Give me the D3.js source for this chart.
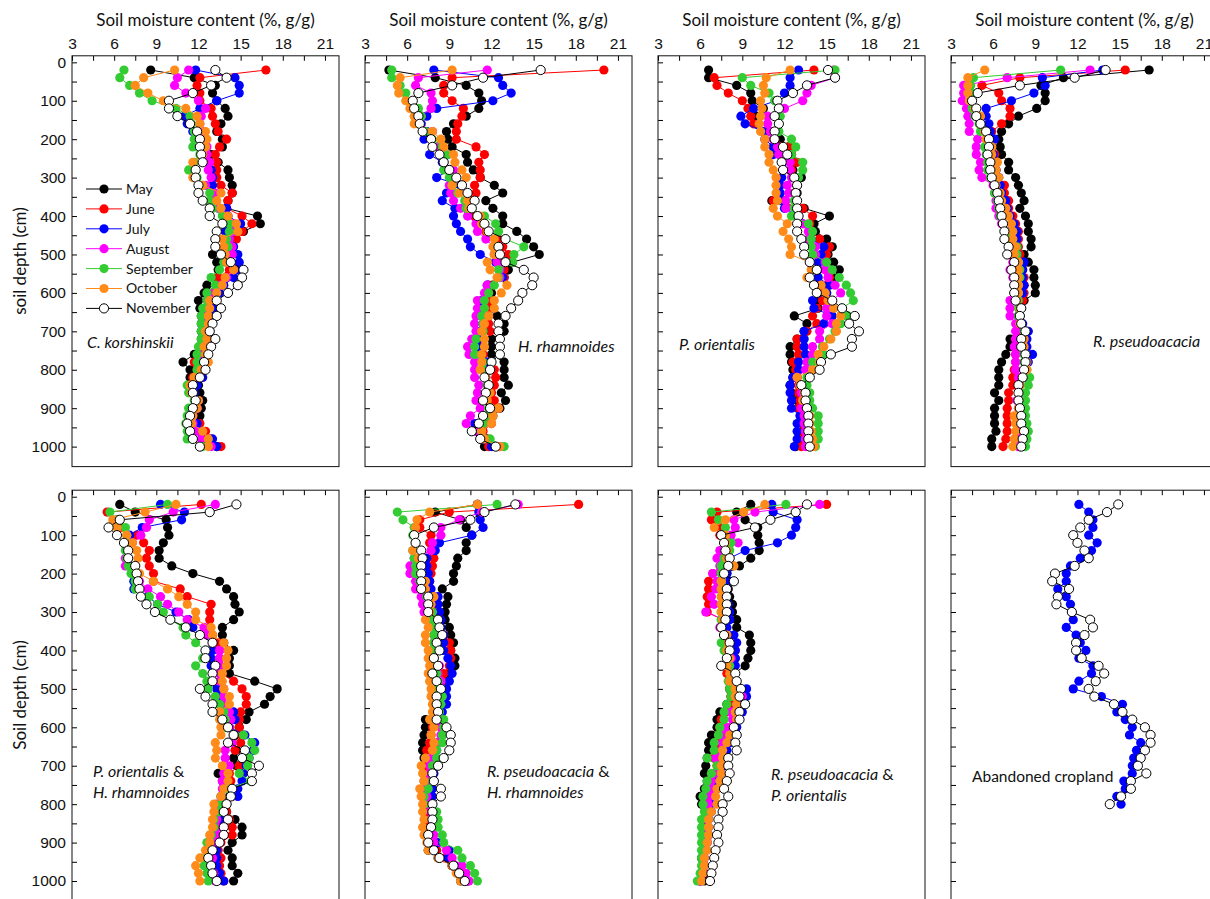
<!DOCTYPE html>
<html>
<head>
<meta charset="utf-8">
<script src="https://cdn.jsdelivr.net/npm/d3@7/dist/d3.min.js"></script>
<style>
  body { margin: 0; background: #fff; }
  svg { display: block; font-family: Lato, "Open Sans", "Liberation Sans", sans-serif; }
</style>
</head>
<body>
<svg id="chart" width="1210" height="899"></svg>
<script>
// categories
const months = ["May", "June", "July", "August", "September", "October", "November"];
const depths = [20, 40, 60, 80, 100, 120, 140, 160, 180, 200, 220, 240, 260, 280, 300, 320, 340, 360, 380, 400,
  420, 440, 460, 480, 500, 520, 540, 560, 580, 600, 620, 640, 660, 680, 700, 720, 740, 760, 780, 800,
  820, 840, 860, 880, 900, 920, 940, 960, 980, 1000];
const xTickLabels = [3, 6, 9, 12, 15, 18, 21];
const yTickLabels = [0, 100, 200, 300, 400, 500, 600, 700, 800, 900, 1000];

// soil moisture (%), one row per month May..November, depth 20..1000 cm
const korshinskii = [
  [8.6,11.7,13.2,13.0,13.3,13.9,14.1,13.6,13.3,13.7,13.7,12.9,13.4,14.1,14.2,14.4,14.4,14.1,14.0,16.2,16.4,15.2,14.2,14.2,13.0,13.3,13.4,13.3,12.6,12.4,12.0,12.1,12.2,12.2,12.2,12.2,12.3,11.7,10.9,11.4,11.4,12.0,12.1,12.3,12.2,12.1,11.4,11.7,12.3,13.3],
  [16.8,12.1,11.9,12.1,12.1,12.9,13.0,13.2,13.4,14.0,13.5,13.2,13.3,13.3,13.3,13.6,14.4,14.1,14.0,15.1,15.8,15.1,14.7,14.2,14.1,14.2,14.2,13.4,13.5,13.0,12.8,12.8,12.4,12.6,12.5,12.7,12.5,12.0,11.7,11.9,11.6,11.5,11.6,12.0,11.9,11.6,12.1,12.5,12.8,13.6],
  [11.8,14.6,14.9,14.9,13.3,12.1,11.0,11.2,11.6,12.1,12.3,12.4,12.7,12.9,13.0,13.0,13.0,13.2,14.0,14.1,15.0,13.9,14.2,14.5,14.8,14.9,14.8,14.5,13.8,13.5,13.0,13.2,13.0,12.9,12.8,12.9,12.5,12.1,12.1,12.1,12.3,11.9,11.7,12.0,11.9,11.6,11.9,12.1,13.0,13.3],
  [11.3,10.5,10.3,11.1,12.0,12.5,12.2,12.1,12.4,12.5,12.6,12.6,12.8,12.7,12.9,12.5,13.2,13.2,13.4,13.9,14.5,14.5,14.2,14.4,14.4,14.0,14.5,14.0,13.6,13.1,12.8,12.7,12.4,12.6,12.5,12.5,12.5,12.0,12.0,12.1,12.0,11.5,11.6,11.9,11.9,11.5,11.6,11.9,12.2,12.9],
  [6.7,6.4,7.1,7.8,8.7,10.4,11.4,11.5,11.7,11.7,11.6,12.1,11.7,11.3,11.9,12.3,12.8,12.8,13.0,13.7,14.2,14.2,14.0,14.1,13.8,13.8,13.5,12.9,13.2,12.6,12.6,12.3,12.2,12.2,12.2,12.2,12.0,11.9,11.9,11.9,11.7,11.2,11.3,11.7,11.3,11.2,11.1,11.2,11.2,12.3],
  [10.3,8.1,7.5,8.4,9.5,11.1,11.9,12.1,12.5,12.6,12.5,12.3,11.6,11.8,11.6,12.3,13.6,13.3,13.6,14.1,14.7,14.8,13.7,13.8,13.9,14.0,14.5,13.9,13.7,13.3,12.8,12.8,12.7,12.7,12.5,12.6,12.4,12.5,12.7,12.2,11.7,11.4,11.5,12.0,11.9,11.6,11.5,12.3,12.7,12.7],
  [13.2,14.0,12.9,11.6,9.9,9.9,10.5,11.4,11.9,12.1,12.1,12.2,12.3,11.8,11.8,12.0,12.0,12.3,12.8,12.8,13.7,13.3,13.2,13.2,13.6,14.3,15.2,15.1,14.8,14.1,13.3,13.6,13.3,13.0,12.8,13.2,12.9,12.7,12.4,12.5,12.1,11.6,11.6,11.8,11.6,11.4,11.2,11.4,11.6,12.1]
];
const rhamnoides = [
  [4.7,8.0,10.2,11.1,11.3,11.1,10.2,9.3,8.8,8.9,9.2,10.2,10.3,10.7,11.2,12.2,12.8,11.6,12.1,12.8,12.8,13.8,14.5,15.0,15.4,13.5,13.2,12.9,12.1,12.0,11.9,12.0,12.4,12.9,12.9,12.0,12.0,12.0,12.9,12.9,12.9,13.2,12.7,13.0,12.6,12.1,11.4,11.3,11.6,11.5],
  [20.0,9.2,8.6,8.6,9.2,10.0,9.9,9.6,9.5,9.5,10.9,11.5,11.1,11.2,11.2,10.8,10.9,10.6,10.5,10.8,11.4,11.6,12.5,12.8,13.2,12.9,12.9,12.9,11.8,11.8,11.9,11.8,11.8,11.8,11.9,11.0,11.2,11.4,11.9,12.2,12.3,12.2,12.0,12.2,12.5,12.0,12.0,11.4,11.7,11.8],
  [7.9,12.5,12.8,13.4,12.1,8.1,7.4,7.0,7.4,7.2,8.2,7.6,8.5,9.0,8.1,9.8,8.8,8.5,9.4,9.3,9.5,9.8,10.3,10.5,11.2,12.3,12.6,12.8,11.7,11.7,11.3,11.3,11.3,11.4,11.2,11.1,11.0,11.2,11.7,11.7,11.6,11.8,11.7,11.5,11.9,11.4,10.8,11.0,11.5,12.0],
  [11.7,6.8,6.6,7.7,7.8,7.7,7.0,6.9,7.8,7.7,8.2,8.9,8.6,9.3,9.4,9.0,9.1,9.3,9.8,10.3,10.9,11.0,11.6,12.2,12.2,12.4,12.6,12.6,11.7,11.5,11.0,11.0,10.9,10.8,10.9,10.6,10.3,10.4,10.8,10.8,10.8,11.1,11.0,10.9,11.2,10.5,10.2,10.8,11.4,12.6],
  [4.9,4.9,5.5,5.9,6.0,6.8,7.0,6.8,7.3,7.8,8.5,8.9,8.6,8.6,9.0,9.2,9.6,10.1,10.2,11.5,12.3,12.5,13.0,14.3,13.6,13.5,12.5,12.5,12.2,11.8,11.5,11.5,11.3,11.4,11.4,10.9,10.8,10.8,11.4,11.4,11.5,11.7,11.7,11.4,11.8,11.7,11.4,11.3,11.9,12.9],
  [9.2,5.5,5.3,5.4,5.9,6.2,6.5,6.5,7.8,8.4,8.6,9.3,9.4,9.9,10.2,9.2,9.7,10.3,10.4,11.2,11.3,11.7,12.2,12.1,12.2,11.7,11.9,12.4,13.1,12.7,12.2,12.2,11.8,11.5,11.3,11.5,11.5,11.3,11.3,11.2,11.6,11.8,11.9,11.7,12.5,12.1,12.0,11.3,11.5,12.6],
  [15.5,11.4,9.2,6.8,6.4,6.5,6.8,6.9,7.1,7.7,7.8,8.3,8.6,9.0,9.5,9.9,10.3,10.8,10.6,11.0,11.5,11.8,13.0,12.5,12.6,13.0,14.3,15.0,14.9,14.2,13.9,13.4,13.0,12.5,12.5,12.6,12.6,12.6,12.0,11.9,11.5,11.8,11.6,11.4,11.9,11.4,11.1,10.6,11.2,12.3]
];
const orientalis = [
  [6.6,6.6,8.6,9.6,9.7,10.5,10.0,10.0,11.0,11.7,12.3,12.5,12.8,12.6,13.2,12.9,12.9,11.1,13.4,15.2,14.1,14.2,15.0,15.4,15.1,15.5,15.9,15.7,15.1,15.0,14.3,14.4,12.7,13.6,13.4,12.9,12.4,12.4,12.5,12.6,12.6,12.4,12.5,12.9,13.0,13.2,13.3,13.3,13.2,12.8],
  [14.1,7.0,7.2,8.0,9.0,9.4,9.6,9.8,10.6,11.3,12.3,12.5,12.9,12.5,12.7,12.9,12.7,11.2,13.3,14.0,13.8,13.9,14.5,15.2,15.0,14.4,14.4,15.2,15.1,14.7,14.7,14.3,14.0,14.3,13.6,12.9,12.9,13.0,12.6,12.8,12.9,13.0,13.0,13.1,13.0,13.2,13.4,13.3,13.3,13.2],
  [13.0,12.4,12.4,12.0,11.4,9.8,8.9,9.2,10.5,10.6,11.2,11.2,11.9,11.9,11.8,11.7,11.7,11.7,12.0,13.0,13.3,13.8,13.9,14.8,14.6,14.4,14.4,14.4,15.2,15.0,14.0,14.1,15.4,14.8,13.4,13.4,13.4,13.5,13.0,13.0,12.6,12.4,12.4,12.5,12.5,13.1,12.9,12.9,12.9,12.7],
  [15.5,15.6,13.9,13.6,13.3,12.0,10.8,10.8,11.0,11.2,11.5,11.6,12.4,12.4,12.5,12.2,12.3,12.1,12.1,13.0,13.3,13.7,13.7,14.2,14.2,14.9,14.9,15.1,15.6,16.0,15.4,15.0,15.0,15.4,14.5,14.5,14.0,14.0,13.6,13.5,12.9,13.1,13.2,13.3,13.2,13.4,13.4,13.5,13.5,13.5],
  [15.6,9.0,9.6,10.9,11.3,11.6,11.7,11.6,11.6,12.5,12.8,12.5,13.3,13.3,13.0,12.9,12.8,12.7,12.7,12.5,13.7,14.0,13.9,13.9,14.0,15.0,15.4,15.9,16.4,16.7,16.9,16.1,16.5,16.0,15.6,15.2,14.7,14.8,14.0,14.0,13.6,13.6,13.8,13.8,14.0,14.4,14.4,14.4,14.4,14.2],
  [12.4,10.7,10.5,10.6,10.3,10.4,10.3,10.2,10.3,10.6,10.6,10.9,10.9,11.2,11.4,11.4,11.4,11.5,11.2,11.5,12.2,11.9,12.3,12.5,12.4,13.8,13.9,13.6,14.6,14.9,15.1,15.5,16.0,15.7,15.7,15.3,14.8,14.4,14.5,14.0,12.9,13.1,13.4,13.3,13.6,13.8,13.8,13.9,14.0,14.1],
  [15.1,15.6,13.6,12.6,11.5,11.6,11.3,11.6,11.3,11.3,11.9,12.2,11.8,11.9,12.7,12.9,12.8,12.9,12.9,13.0,12.9,12.9,13.2,13.4,13.4,13.8,14.3,13.8,14.1,14.3,15.4,16.1,17.0,16.6,17.3,16.8,16.8,15.3,14.6,14.5,13.8,13.2,13.5,13.5,13.6,13.7,13.7,13.7,13.7,13.8]
];
const pseudoacacia = [
  [17.1,11.0,9.4,9.7,9.7,9.1,7.8,7.1,6.6,6.4,6.5,6.6,7.1,7.1,7.6,7.8,8.0,8.2,7.9,8.3,8.5,8.5,8.7,8.7,8.2,8.5,8.9,8.9,9.0,9.0,8.2,8.0,7.9,7.9,7.8,7.2,7.2,6.9,6.6,6.4,6.4,6.4,6.1,6.4,6.1,6.1,6.1,6.2,5.9,5.9],
  [15.4,7.9,5.2,6.4,6.6,7.2,7.2,6.6,5.9,5.9,5.9,6.1,6.2,6.2,6.3,6.8,6.8,7.1,7.1,7.4,7.6,7.8,7.8,7.8,7.9,8.1,8.1,8.2,8.2,8.2,8.1,7.9,7.8,7.8,7.8,7.6,7.6,7.6,7.6,7.5,7.4,7.4,7.1,7.1,7.0,7.0,7.0,7.0,6.9,6.7],
  [13.8,9.5,9.7,8.9,7.3,5.5,5.5,5.7,5.8,6.1,5.9,6.0,6.1,6.2,6.4,6.5,6.6,6.9,7.0,7.2,7.5,7.7,7.7,7.7,7.7,8.2,8.1,8.1,8.2,8.1,7.8,7.9,7.8,8.1,8.5,8.4,8.4,8.8,8.5,8.3,8.2,7.9,7.9,7.9,7.9,7.9,8.1,8.1,8.0,7.9],
  [12.9,7.0,3.9,3.9,3.8,4.1,4.2,4.3,4.3,4.9,4.8,4.8,5.1,5.0,5.2,6.0,6.1,6.2,6.2,6.4,6.6,7.0,7.1,7.2,7.2,7.4,7.2,7.4,7.5,7.5,7.2,7.2,7.2,7.6,7.6,7.6,7.5,7.6,7.6,7.6,7.8,7.8,7.8,7.7,7.8,7.8,7.8,7.8,7.8,7.8],
  [10.8,4.6,4.4,4.5,4.4,4.5,4.7,5.0,5.1,5.5,5.4,5.5,5.6,5.6,5.8,6.1,6.1,6.3,6.4,6.5,6.7,6.9,7.1,7.7,7.7,7.8,7.9,7.9,7.8,7.8,7.8,7.8,7.8,8.0,8.2,8.1,8.1,8.2,8.2,8.4,8.6,8.5,8.3,8.3,8.3,8.3,8.4,8.5,8.4,8.3],
  [5.4,4.2,4.2,4.2,4.3,4.7,5.1,5.1,5.4,5.5,5.9,5.9,6.3,6.2,6.4,6.2,6.5,6.6,6.9,7.1,7.3,7.4,7.4,7.6,7.5,7.8,7.8,7.8,7.8,7.8,7.7,7.9,7.9,7.9,8.3,8.2,8.2,8.3,8.4,8.4,8.1,7.9,7.8,7.8,7.8,7.5,7.6,7.6,7.5,7.4],
  [14.0,11.8,7.9,4.9,4.5,4.8,4.8,5.1,5.5,5.7,5.7,5.6,5.8,5.8,5.9,6.1,6.3,6.4,6.5,6.6,6.7,6.8,6.8,7.1,7.0,7.5,7.3,7.5,7.5,7.5,7.6,8.0,7.9,8.0,8.3,8.0,8.0,8.3,8.3,8.2,8.1,7.8,7.8,7.8,7.9,8.0,8.0,8.2,8.1,8.0]
];
const orientalisRhamnoides = [
  [6.4,7.5,9.7,9.8,9.9,9.5,9.2,9.2,10.1,11.6,13.5,14.0,14.5,14.6,14.9,14.5,13.7,13.7,13.8,14.5,14.2,14.2,14.2,16.0,17.6,17.1,16.7,15.6,15.4,14.9,15.1,14.4,14.7,14.5,14.7,13.4,13.7,14.3,14.2,14.0,14.0,14.6,15.1,15.1,14.4,14.1,14.4,14.4,14.8,14.5],
  [12.2,5.5,6.2,6.5,7.6,8.1,8.5,8.3,8.5,8.8,8.8,10.7,11.2,12.9,12.8,12.8,12.8,13.0,13.4,13.5,13.5,13.5,13.6,14.5,15.1,15.4,15.4,15.0,14.9,14.9,15.1,15.0,14.6,15.2,14.9,14.2,14.3,14.2,14.4,14.0,14.0,14.2,14.4,14.4,13.6,13.4,13.6,13.5,13.6,13.8],
  [9.3,11.0,10.8,8.0,7.1,6.9,6.9,7.0,7.1,7.3,7.4,7.4,8.4,9.1,10.4,11.3,11.6,12.1,13.0,13.0,12.9,12.9,13.0,13.0,13.3,13.5,13.5,14.5,14.6,14.2,15.3,16.0,15.9,15.6,15.4,15.2,15.1,14.8,14.8,13.9,13.8,13.6,13.7,13.8,13.5,13.3,13.3,13.3,13.5,13.8],
  [13.2,10.2,8.5,8.3,7.9,7.3,6.9,6.8,6.8,7.4,7.8,8.4,9.3,9.8,10.6,11.2,12.4,12.6,13.0,13.5,13.5,13.5,13.5,13.5,13.8,13.8,13.8,14.2,14.3,14.2,14.5,14.4,13.9,13.9,14.2,13.8,13.7,13.7,13.6,13.3,13.2,13.3,13.3,13.3,13.3,13.0,13.0,12.9,13.1,13.2],
  [9.8,5.7,6.2,6.8,6.9,6.8,6.8,6.9,7.0,7.2,7.5,7.5,8.5,9.1,9.5,10.0,10.9,11.1,11.8,12.5,12.3,11.8,12.3,12.6,12.7,13.2,13.5,13.8,13.9,13.9,15.2,15.8,16.0,15.6,15.5,14.9,15.7,14.1,13.6,13.6,13.5,13.1,13.1,12.9,12.6,12.6,12.5,12.4,12.6,12.7],
  [10.4,8.2,5.9,6.2,6.9,7.3,7.6,7.7,7.5,7.8,8.8,9.8,10.6,11.2,11.8,11.8,12.9,13.0,13.8,14.1,14.0,14.0,13.7,13.7,13.8,14.2,14.2,13.5,13.5,13.6,13.6,13.2,13.3,13.2,13.7,14.1,14.1,13.8,13.6,13.1,13.1,13.0,13.0,12.8,12.8,12.5,12.1,11.8,12.0,12.1],
  [14.7,12.8,6.4,5.6,6.2,6.7,7.0,7.0,7.5,7.6,7.7,7.8,7.9,8.3,8.9,10.0,11.1,12.1,13.0,12.5,12.5,13.2,13.0,13.0,12.1,12.5,13.0,13.0,13.7,14.1,14.5,14.1,15.3,15.1,16.3,15.8,15.8,14.4,14.3,14.0,13.8,14.1,13.8,13.8,13.5,13.0,12.7,12.9,13.0,13.3]
];
const pseudoacaciaRhamnoides = [
  [11.0,8.0,9.8,10.2,10.6,10.2,10.2,9.6,9.5,9.3,9.3,8.5,8.9,8.8,8.7,8.7,9.0,9.1,9.3,9.1,9.4,9.4,9.0,8.6,8.4,8.3,8.2,7.9,7.3,7.3,7.2,7.1,7.1,7.2,7.2,7.2,7.4,7.5,7.4,7.6,7.5,7.5,7.5,7.5,7.5,7.5,8.2,9.2,9.6,9.8],
  [18.2,9.0,6.9,6.9,7.7,7.6,7.8,7.9,7.8,7.7,7.6,7.6,7.9,7.9,7.9,8.1,8.3,8.6,9.0,9.1,9.1,9.0,8.6,8.5,8.4,8.3,8.1,7.9,7.8,7.8,7.7,7.6,7.4,7.5,7.4,7.2,7.2,7.4,7.3,7.5,7.4,7.3,7.4,7.6,7.9,8.1,8.7,9.2,9.8,10.3],
  [11.0,11.1,11.2,11.4,10.6,8.3,8.0,7.4,7.4,7.5,7.6,7.7,8.2,8.2,8.3,8.4,8.4,8.6,8.6,8.6,8.9,9.1,9.2,9.0,8.8,8.8,8.8,8.5,8.5,8.5,8.5,8.2,8.1,7.9,7.8,7.9,7.8,7.8,7.8,7.7,7.7,7.8,7.7,7.8,8.2,9.0,8.9,9.4,10.0,10.3],
  [13.9,11.3,9.7,8.4,8.4,7.8,7.7,6.5,6.2,6.2,6.6,6.6,7.0,7.1,7.2,7.8,8.0,7.9,7.9,7.8,7.9,8.3,8.2,8.4,8.1,8.1,8.1,8.2,7.9,8.4,8.4,8.2,7.9,7.7,7.6,7.6,7.6,7.4,7.4,7.5,7.7,7.7,7.8,7.9,7.9,8.8,9.2,9.9,10.2,10.4],
  [12.4,5.3,5.7,6.5,6.4,6.6,6.4,6.5,6.6,6.6,6.9,7.0,7.4,7.5,7.8,7.8,8.0,7.9,7.9,7.8,7.9,8.1,8.1,8.2,8.1,8.5,8.4,8.3,8.6,8.6,8.5,8.5,8.1,8.1,7.8,7.8,7.8,7.5,7.2,7.2,8.1,8.2,8.2,8.5,8.6,9.6,9.9,10.5,10.8,11.0],
  [11.0,7.6,6.7,6.6,6.5,6.6,6.4,6.8,7.0,7.0,7.3,7.3,7.9,7.7,7.6,7.3,7.5,7.3,7.3,7.5,7.5,7.6,7.5,7.6,7.7,7.7,7.8,7.8,7.6,7.9,7.7,7.9,7.8,7.3,7.0,7.1,7.2,6.9,7.0,7.1,7.1,7.2,7.1,7.2,7.4,7.5,8.2,9.2,9.5,9.8],
  [13.7,11.5,10.5,7.9,6.5,6.6,7.0,7.1,7.0,7.0,7.0,7.0,7.5,7.5,7.5,8.2,8.3,8.5,8.1,8.3,7.9,8.2,7.8,8.1,8.4,8.1,8.1,8.2,8.1,8.8,9.1,9.1,9.0,8.6,8.2,7.8,7.9,8.4,8.4,7.8,7.8,7.8,7.7,7.5,7.5,7.9,8.3,9.3,9.7,10.1]
];
const pseudoacaciaOrientalis = [
  [9.6,8.6,9.2,10.1,10.1,10.2,10.2,9.6,8.8,7.9,8.1,8.0,8.1,8.3,8.3,8.6,8.6,9.5,9.6,9.6,9.4,9.2,8.4,8.1,8.1,8.2,7.9,7.4,7.2,7.2,6.8,6.6,6.6,6.5,6.4,6.3,6.5,6.3,6.0,6.1,6.4,6.2,6.2,6.3,6.4,6.3,6.1,6.2,6.3,6.3],
  [15.0,7.2,6.8,7.4,7.4,7.9,8.0,7.5,7.8,6.9,6.6,6.6,6.5,6.6,6.5,7.6,7.5,7.7,8.1,8.5,8.5,8.1,7.9,8.1,8.1,8.2,8.1,7.8,7.5,7.4,7.3,7.3,7.1,7.0,7.2,7.3,6.9,6.7,6.5,6.5,6.6,6.5,6.5,6.5,6.4,6.3,6.2,6.3,6.2,6.0],
  [11.1,11.2,12.9,12.8,12.5,11.5,9.2,8.1,8.3,7.9,8.1,7.9,7.9,8.0,8.1,8.1,7.9,8.4,8.6,8.5,8.5,8.5,8.4,8.5,9.3,9.3,9.1,9.0,8.8,8.6,8.5,8.1,7.9,7.6,7.7,7.5,7.2,7.2,7.0,6.7,6.8,6.6,6.6,6.6,6.5,6.4,6.3,6.3,6.2,6.0],
  [14.5,9.9,8.4,8.5,8.2,8.7,7.4,7.2,7.4,6.9,7.2,7.1,6.8,7.0,6.4,7.7,7.4,7.8,8.1,8.0,8.2,8.1,8.2,8.4,8.5,9.0,8.6,8.2,8.3,7.9,7.7,7.6,7.5,7.1,7.3,7.1,6.8,6.8,6.7,6.6,6.6,6.5,6.5,6.5,6.5,6.4,6.3,6.3,6.2,6.0],
  [12.1,6.8,7.3,7.8,7.8,8.2,8.1,7.7,7.5,7.5,7.5,7.5,7.5,7.6,7.5,7.5,7.5,7.7,7.5,7.7,8.0,8.1,8.2,8.0,8.1,8.2,7.9,7.7,7.7,7.4,7.3,7.0,7.0,6.5,7.2,6.8,6.5,6.4,6.2,6.2,6.3,6.1,6.1,6.1,6.1,6.1,6.1,6.1,6.0,5.8],
  [10.6,9.1,7.8,7.0,7.8,7.8,7.9,7.9,8.4,7.7,7.5,7.5,7.5,7.5,7.5,7.6,7.5,7.9,8.0,7.9,8.1,7.9,8.1,8.1,8.5,8.5,8.6,8.5,8.6,8.4,8.1,7.9,7.6,7.6,7.5,7.5,7.4,7.2,7.1,7.2,6.8,6.6,6.6,6.6,6.5,6.5,6.3,6.3,6.2,6.1],
  [13.6,12.8,11.0,9.9,7.5,7.7,7.8,8.1,8.0,7.7,8.4,7.9,7.9,7.9,7.9,7.8,7.5,7.7,8.1,8.1,7.9,7.5,8.5,8.6,8.9,8.8,9.2,8.8,8.8,8.4,8.6,8.5,8.6,8.0,8.0,8.1,7.9,7.7,8.0,7.6,7.6,7.3,7.3,7.2,7.3,7.1,7.0,6.9,6.8,6.7]
];
// abandoned cropland: only July and November, depth 20..800 cm
const croplandJuly = [12.1,12.8,13.1,13.1,12.8,13.4,13.0,12.2,11.5,11.2,11.2,10.6,11.2,11.5,11.6,11.7,11.2,11.9,12.2,12.6,12.1,13.1,13.0,12.1,11.7,13.7,15.2,14.8,15.4,15.9,15.7,16.5,16.2,16.0,15.9,15.9,15.3,15.4,14.8,15.1];
const croplandNovember = [14.9,14.1,12.8,12.2,11.7,12.0,12.5,12.8,11.8,10.4,10.2,11.4,10.6,10.5,11.6,12.9,13.1,12.5,11.9,11.9,12.3,13.5,13.9,13.3,12.8,13.2,14.6,15.2,15.9,16.8,17.2,17.2,16.8,16.5,16.3,16.9,15.8,15.8,15.1,14.3];

const colors = {May: "#000000", June: "#ff0000", July: "#0000ff", August: "#ff00ff",
  September: "#33cc33", October: "#ff8c1a", November: "#ffffff"};

const panelW = 267, panelH = 410.8;
const panels = [
  {col: 0, row: 0, series: korshinskii.map((v, i) => ({m: months[i], v})), label: ["C. korshinskii"], lx: 15, ly: 292, legend: true},
  {col: 1, row: 0, series: rhamnoides.map((v, i) => ({m: months[i], v})), label: ["H. rhamnoides"], lx: 153, ly: 296},
  {col: 2, row: 0, series: orientalis.map((v, i) => ({m: months[i], v})), label: ["P. orientalis"], lx: 21, ly: 294},
  {col: 3, row: 0, series: pseudoacacia.map((v, i) => ({m: months[i], v})), label: ["R. pseudoacacia"], lx: 142, ly: 291},
  {col: 0, row: 1, series: orientalisRhamnoides.map((v, i) => ({m: months[i], v})), label: ["P. orientalis", "H. rhamnoides"], lx: 21, ly: 287},
  {col: 1, row: 1, series: pseudoacaciaRhamnoides.map((v, i) => ({m: months[i], v})), label: ["R. pseudoacacia", "H. rhamnoides"], lx: 122, ly: 287},
  {col: 2, row: 1, series: pseudoacaciaOrientalis.map((v, i) => ({m: months[i], v})), label: ["R. pseudoacacia", "P. orientalis"], lx: 113, ly: 290},
  {col: 3, row: 1, series: [{m: "July", v: croplandJuly}, {m: "November", v: croplandNovember}], label: ["Abandoned cropland"], lx: 21, ly: 292, plain: true}
];

const svg = d3.select("#chart");
const x = d3.scaleLinear().domain([3, 22]).range([0, panelW]);
const y = d3.scaleLinear().domain([-17, 1052]).range([0, panelH]);
const line = d3.line().x(d => x(d.v)).y(d => y(d.d));

panels.forEach(p => {
  const left = 72 + 293 * p.col, top = p.row === 0 ? 55.8 : 490.2;
  const g = svg.append("g").attr("transform", `translate(${left},${top})`);

  // top axis, ticks pointing in
  const xa = g.append("g").call(d3.axisTop(x)
    .tickValues(d3.range(3, 21.1, 1.5))
    .tickSize(-5).tickPadding(7)
    .tickFormat(d => p.row === 0 && xTickLabels.includes(d) ? d : ""));
  xa.select(".domain").remove();
  xa.selectAll("text").attr("font-size", 15.5).attr("fill", "#111").attr("font-family", null);

  // left axis
  const ya = g.append("g").call(d3.axisLeft(y)
    .tickValues(d3.range(0, 1001, 50))
    .tickSize(-5).tickPadding(6)
    .tickFormat(d => p.col === 0 && yTickLabels.includes(d) ? d : ""));
  ya.select(".domain").remove();
  ya.selectAll("text").attr("font-size", 15.5).attr("fill", "#111").attr("font-family", null);

  g.append("rect").attr("width", panelW).attr("height", panelH)
    .attr("fill", "none").attr("stroke", "#111").attr("stroke-width", 1);

  p.series.forEach(s => {
    const pts = s.v.map((v, i) => ({v, d: depths[i]}));
    const stroke = s.m === "November" ? "#000" : colors[s.m];
    g.append("path").datum(pts).attr("d", line)
      .attr("fill", "none").attr("stroke", stroke).attr("stroke-width", 1);
    g.selectAll(null).data(pts).enter().append("circle")
      .attr("cx", d => x(d.v)).attr("cy", d => y(d.d)).attr("r", 4.6)
      .attr("fill", colors[s.m])
      .attr("stroke", s.m === "November" ? "#000" : "none")
      .attr("stroke-width", 1);
  });

  const t = g.append("text").attr("x", p.lx).attr("y", p.ly)
    .attr("font-size", p.plain ? 15.5 : 16).attr("fill", "#111");
  p.label.forEach((l, i) => {
    t.append("tspan").attr("x", p.lx).attr("dy", i === 0 ? 0 : 21)
      .attr("font-style", p.plain ? "normal" : "italic").text(l);
    if (i === 0 && p.label.length > 1) t.append("tspan").text(" &");
  });

  if (p.row === 0) {
    svg.append("text").attr("x", left + panelW / 2).attr("y", 26)
      .attr("text-anchor", "middle").attr("font-size", 17).attr("fill", "#111")
      .text("Soil moisture content (%, g/g)");
  }

  if (p.legend) {
    const lg = g.append("g").attr("transform", "translate(0,133.2)");
    months.forEach((m, i) => {
      const row = lg.append("g").attr("transform", `translate(0,${i * 19.9})`);
      row.append("line").attr("x1", 14).attr("x2", 50)
        .attr("stroke", m === "November" ? "#000" : colors[m]).attr("stroke-width", 1);
      row.append("circle").attr("cx", 32).attr("r", 4.6).attr("fill", colors[m])
        .attr("stroke", m === "November" ? "#000" : "none");
      row.append("text").attr("x", 54).attr("dy", "0.35em")
        .attr("font-size", 14).attr("fill", "#111").text(m);
    });
  }
});

// y axis titles
[["soil depth (cm)", 261], ["Soil depth (cm)", 695]].forEach(([txt, cy]) => {
  svg.append("text").attr("transform", `translate(26,${cy}) rotate(-90)`)
    .attr("text-anchor", "middle").attr("font-size", 17).attr("fill", "#111").text(txt);
});
</script>
</body>
</html>
